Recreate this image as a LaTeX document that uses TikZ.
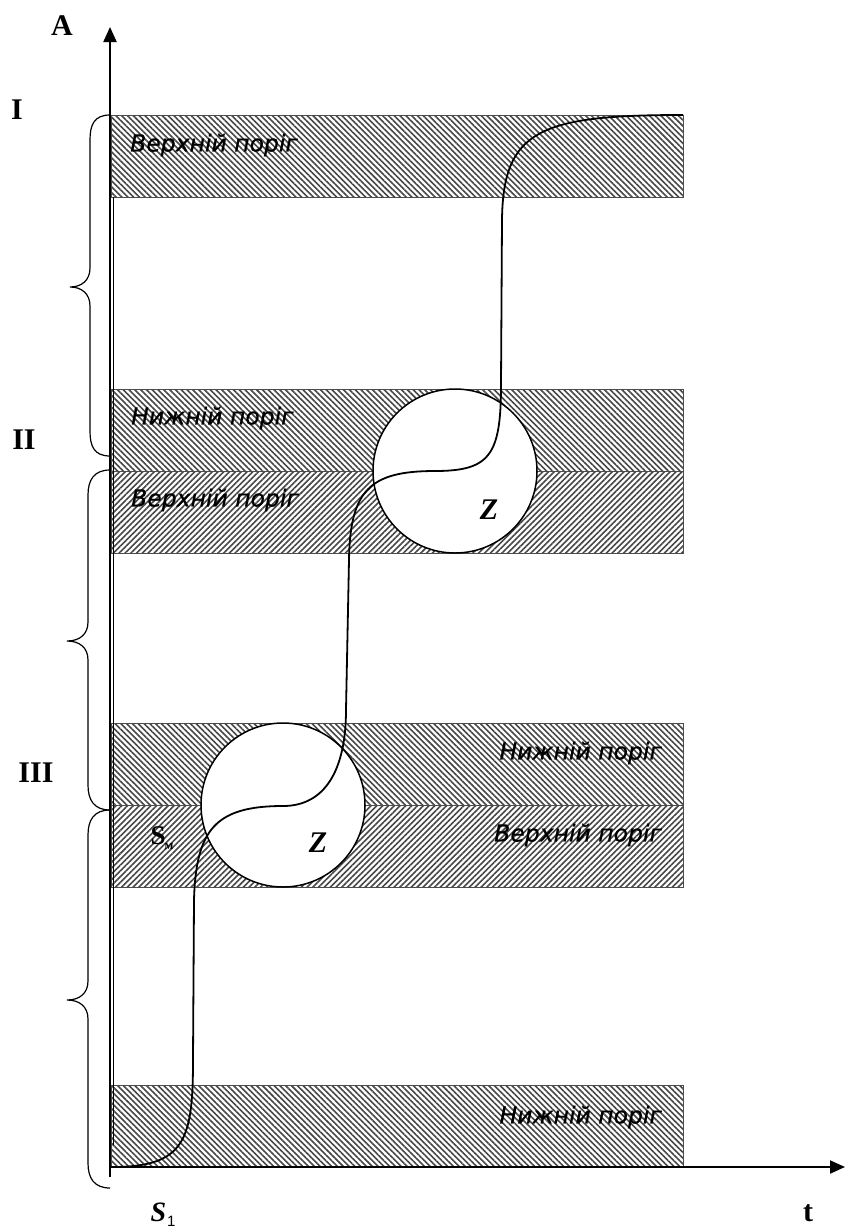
\documentclass[tikz,border=0pt]{standalone}
\usepackage{fontspec}
\newfontfamily\bandfont{DejaVu Sans}[ItalicFeatures={FakeBold=0.6}]
\newfontfamily\serifb{Liberation Serif}
\newfontfamily\sansl{Liberation Sans}
\usetikzlibrary{patterns.meta,arrows.meta}
\begin{document}
\begin{tikzpicture}[x=1pt,y=-1pt,
  band/.style={rectangle,draw=black!70,line width=0.8pt,minimum width=572pt,minimum height=82pt,anchor=north west,inner sep=0,outer sep=0},
  ne/.style={pattern={Lines[angle=45,distance=4.1pt,line width=1.6pt]},pattern color=black!72},
  nw/.style={pattern={Lines[angle=-45,distance=4.1pt,line width=1.6pt]},pattern color=black!72},
  lbl/.style={font=\bandfont\itshape\fontsize{23.5}{27}\selectfont,inner sep=0},
  big/.style={font=\serifb\bfseries\fontsize{30}{34}\selectfont,inner sep=0},
  zlbl/.style={font=\serifb\bfseries\itshape\fontsize{30}{34}\selectfont,inner sep=0},
  zone/.style={circle,draw,fill=white,line width=1.5pt,minimum size=164pt,inner sep=0},
  axis/.style={line width=2pt,-{Triangle[length=15pt,width=13pt]}},
  brace/.style={line width=1.2pt},
  curve/.style={line width=1.8pt}]
\useasboundingbox (0,0) rectangle (845,1229);

% bands
\node[band,nw] (b1) at (111,115) {};
\node[band,nw] (b2) at (111,389) {};
\node[band,ne] (b3) at (111,471) {};
\node[band,nw] (b4) at (111,723) {};
\node[band,ne] (b5) at (111,805) {};
\node[band,nw] (b6) at (111,1085) {};

% band labels
\node[lbl,anchor=west] (t1) at (130,145) {Верхній поріг};
\node[lbl,anchor=west] (t2) at (131,418) {Нижній поріг};
\node[lbl,anchor=west] (t3) at (131,500) {Верхній поріг};
\node[lbl,anchor=east] (t4) at (662,753) {Нижній поріг};
\node[lbl,anchor=east] (t5) at (662,835) {Верхній поріг};
\node[lbl,anchor=east] (t6) at (662,1117) {Нижній поріг};

% thin line beside axis
\coordinate (g1) at (113.5,197);
\coordinate (g2) at (113.5,1145);
\draw[line width=0.8pt] (g1) -- (g2);

% axes
\coordinate (ybot) at (110,1177);
\coordinate (ytop) at (110,27);
\coordinate (xl) at (110,1167);
\coordinate (xr) at (845,1167);
\draw[axis] (ybot) -- (ytop);
\draw[axis] (xl) -- (xr);

% circles
\node[zone] (z2) at (455,471) {};
\node[zone] (z1) at (283,805) {};
\node[zlbl] (zl2) at (489,510) {Z};
\node[zlbl] (zl1) at (318,843) {Z};

% curve
\draw[curve] (112,1167) .. controls (185,1167) and (193,1140) .. (193,1060)
  -- (194,900) .. controls (196,830) and (215,806) .. (283,806)
  .. controls (325,806) and (346,770) .. (346,710)
  -- (349,560) .. controls (350,490) and (370,471) .. (435,471)
  .. controls (490,471) and (501,455) .. (501,385)
  -- (502,220) .. controls (503,130) and (540,115) .. (683,115);

% braces
\draw[brace] (110,115) .. controls (94,115) and (90,125) .. (90,140) -- (90,268)
  .. controls (90,280) and (82,287) .. (70,287) .. controls (82,287) and (90,294) .. (90,306)
  -- (90,431) .. controls (90,446) and (94,456) .. (110,456);
\draw[brace] (110,470) .. controls (94,470) and (88,480) .. (88,495) -- (88,622)
  .. controls (88,634) and (80,641) .. (67,641) .. controls (80,641) and (88,648) .. (88,660)
  -- (88,785) .. controls (88,800) and (94,810) .. (110,810);
\draw[brace] (110,810) .. controls (94,810) and (88,820) .. (88,835) -- (88,981)
  .. controls (88,993) and (80,1000) .. (67,1000) .. controls (80,1000) and (88,1007) .. (88,1019)
  -- (88,1163) .. controls (88,1178) and (94,1188) .. (110,1188);

% axis and zone labels
\node[big] (lA) at (62,26) {A};
\node[big] (lI) at (17,110) {I};
\node[big] (lII) at (24,440) {II};
\node[big] (lIII) at (36,773) {III};
\node[big] (lt) at (808,1213) {t};
\node[inner sep=0] (lS1) at (163,1215) {\serifb\bfseries\itshape\fontsize{28}{30}\selectfont S\kern1pt\raisebox{-5pt}{\sansl\mdseries\upshape\fontsize{15}{15}\selectfont 1}};
\node[inner sep=0] (lSm) at (162,838) {\serifb\bfseries\fontsize{27}{29}\selectfont S\kern-1pt\raisebox{-5pt}{\fontsize{13}{13}\selectfont м}};
\end{tikzpicture}
\end{document}
